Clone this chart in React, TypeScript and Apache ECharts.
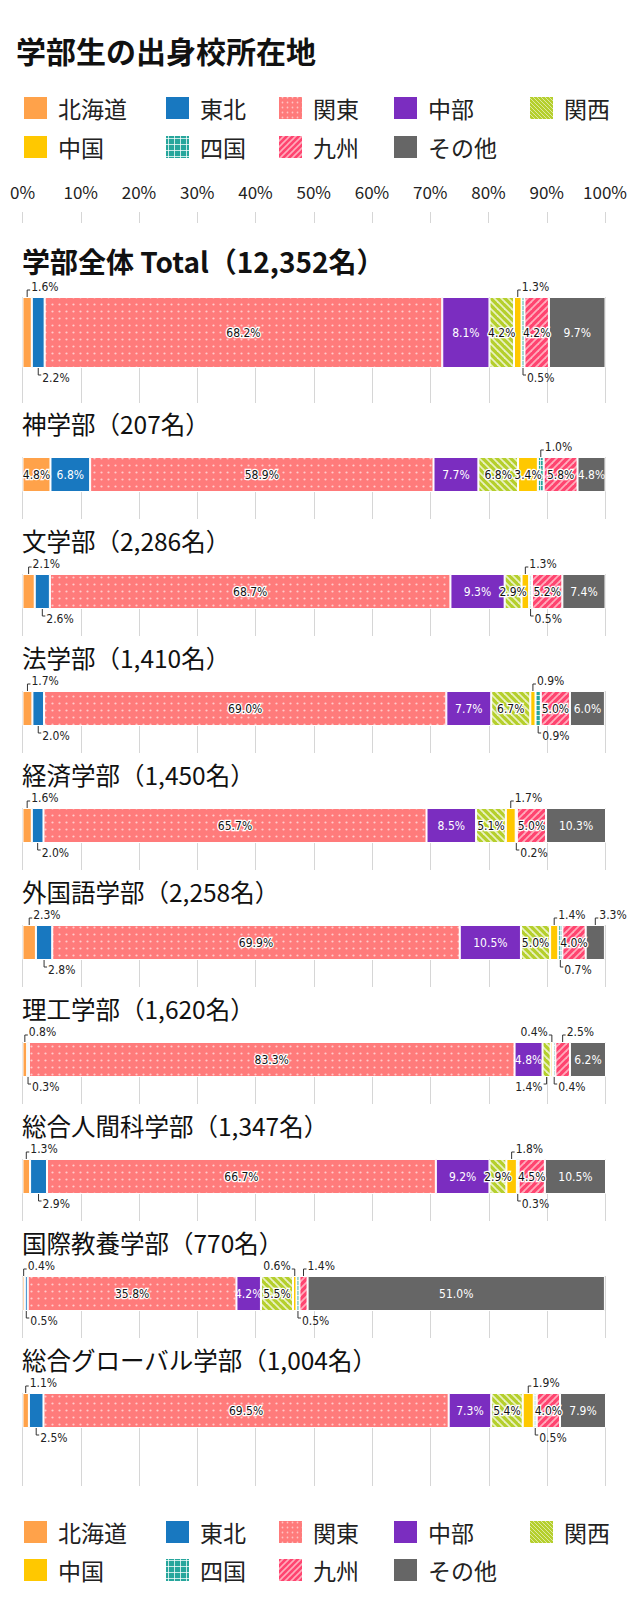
import React, { useEffect, useRef } from "react";
import * as echarts from "echarts";

const REGIONS = ["北海道", "東北", "関東", "中部", "関西", "中国", "四国", "九州", "その他"];
const TICK_LABELS = ["0%", "10%", "20%", "30%", "40%", "50%", "60%", "70%", "80%", "90%", "100%"];
const MAIN_TITLE = "学部生の出身校所在地";
const FACULTIES = [
  "学部全体 Total（12,352名）",
  "神学部（207名）",
  "文学部（2,286名）",
  "法学部（1,410名）",
  "経済学部（1,450名）",
  "外国語学部（2,258名）",
  "理工学部（1,620名）",
  "総合人間科学部（1,347名）",
  "国際教養学部（770名）",
  "総合グローバル学部（1,004名）",
];

// shares (%) in order: 北海道, 東北, 関東, 中部, 関西, 中国, 四国, 九州, その他
const TOTAL = [1.6, 2.2, 68.2, 8.1, 4.2, 1.3, 0.5, 4.2, 9.7];
const THEOLOGY = [4.8, 6.8, 58.9, 7.7, 6.8, 3.4, 1.0, 5.8, 4.8];
const HUMANITIES = [2.1, 2.6, 68.7, 9.3, 2.9, 1.3, 0.5, 5.2, 7.4];
const LAW = [1.7, 2.0, 69.0, 7.7, 6.7, 0.9, 0.9, 5.0, 6.0];
const ECONOMICS = [1.6, 2.0, 65.7, 8.5, 5.1, 1.7, 0.2, 5.0, 10.3];
const FOREIGN_STUDIES = [2.3, 2.8, 69.9, 10.5, 5.0, 1.4, 0.7, 4.0, 3.3];
const SCIENCE_TECH = [0.8, 0.3, 83.3, 4.8, 1.4, 0.4, 0.4, 2.5, 6.2];
const HUMAN_SCIENCES = [1.3, 2.9, 66.7, 9.2, 2.9, 1.8, 0.3, 4.5, 10.5];
const LIBERAL_ARTS = [0.4, 0.5, 35.8, 4.2, 5.5, 0.6, 0.5, 1.4, 51.0];
const GLOBAL_STUDIES = [1.1, 2.5, 69.5, 7.3, 5.4, 1.9, 0.5, 4.0, 7.9];
const FACULTY_VALUES = [
  TOTAL, THEOLOGY, HUMANITIES, LAW, ECONOMICS, FOREIGN_STUDIES,
  SCIENCE_TECH, HUMAN_SCIENCES, LIBERAL_ARTS, GLOBAL_STUDIES,
];

// label placement: "" inside, a = above-right, b = below-right, al = above-left, bl = below-left
const PLACEMENT = [
  ["a", "b", "", "", "", "a", "b", "", ""],
  ["", "", "", "", "", "", "a", "", ""],
  ["a", "b", "", "", "", "a", "b", "", ""],
  ["a", "b", "", "", "", "a", "b", "", ""],
  ["a", "b", "", "", "", "a", "b", "", ""],
  ["a", "b", "", "", "", "a", "b", "", "a"],
  ["a", "b", "", "", "bl", "al", "b", "a", ""],
  ["a", "b", "", "", "", "a", "b", "", ""],
  ["a", "b", "", "", "", "al", "b", "a", ""],
  ["a", "b", "", "", "", "a", "b", "", ""],
];
const CODE_NUM: Record<string, number> = { a: 1, b: 2, al: 3, bl: 4 };

const JP_FONT = "'Noto Sans CJK JP', 'Noto Sans', sans-serif";
const NUM_FONT = "'DejaVu Sans Condensed', 'Liberation Sans Narrow', 'Roboto', sans-serif";
const DARK = [false, true, false, true, false, false, false, false, true];

function tile(size: number, draw: (ctx: CanvasRenderingContext2D, s: number) => void) {
  const c = document.createElement("canvas");
  c.width = size;
  c.height = size;
  const ctx = c.getContext("2d") as CanvasRenderingContext2D;
  draw(ctx, size);
  return { image: c, repeat: "repeat", imageWidth: size, imageHeight: size } as any;
}
function dotFill(base: string, dot: string, s: number, r: number) {
  return tile(s, (ctx, n) => {
    ctx.fillStyle = base;
    ctx.fillRect(0, 0, n, n);
    ctx.fillStyle = dot;
    ctx.beginPath();
    ctx.arc(n / 2, n / 2, r, 0, Math.PI * 2);
    ctx.fill();
  });
}
function stripeFill(base: string, line: string, s: number, lw: number, back: boolean) {
  return tile(s, (ctx, n) => {
    ctx.fillStyle = base;
    ctx.fillRect(0, 0, n, n);
    if (back) {
      ctx.translate(n, 0);
      ctx.scale(-1, 1);
    }
    ctx.strokeStyle = line;
    ctx.lineWidth = lw;
    for (const k of [0, n, 2 * n]) {
      ctx.beginPath();
      ctx.moveTo(-1, k + 1);
      ctx.lineTo(k + 1, -1);
      ctx.stroke();
    }
  });
}
function gridFill(base: string, line: string, s: number, lw: number) {
  return tile(s, (ctx, n) => {
    ctx.fillStyle = base;
    ctx.fillRect(0, 0, n, n);
    ctx.fillStyle = line;
    ctx.fillRect(0, 0, n, lw);
    ctx.fillRect(0, 0, lw, n);
  });
}

function makeFills(fine: boolean) {
  return [
    "#FFA24A",
    "#1878C0",
    fine ? dotFill("#FF7B7B", "rgba(255,255,255,0.55)", 5, 0.9) : dotFill("#FF7B7B", "rgba(255,255,255,0.6)", 7, 1.1),
    "#7B2DC0",
    fine ? stripeFill("#B5CF2C", "rgba(255,255,255,0.55)", 4, 1, true) : stripeFill("#B5CF2C", "rgba(255,255,255,0.7)", 7, 1.8, true),
    "#FFC800",
    fine ? gridFill("#27A69C", "rgba(255,255,255,0.75)", 6, 1) : gridFill("#27A69C", "rgba(255,255,255,0.75)", 5, 1),
    fine ? stripeFill("#FF4470", "rgba(255,190,200,0.85)", 6, 1.6, false) : stripeFill("#FF4470", "rgba(255,190,200,0.85)", 7, 1.8, false),
    "#666666",
  ];
}

const GRID_LEFT = 22.5;
const GRID_RIGHT = 24.5;
const barTop = (i: number) => (i === 0 ? 297 : 457 + (i - 1) * 117.0);
const barH = (i: number) => (i === 0 ? 71 : 35);
const lineExt = (i: number) => (i === 0 ? 35 : i === 9 ? 58 : 27);

const renderCallout = (params: any, api: any) => {
  const start = api.value(0);
  const val = api.value(2);
  const code = api.value(3);
  const pt = api.coord([start + val / 2, 0]);
  const cx = pt[0];
  const cy = pt[1];
  const band = api.size([0, 1])[1];
  const up = code === 1 || code === 3;
  const left = code === 3 || code === 4;
  const edge = up ? cy - band / 2 : cy + band / 2;
  const elbowY = up ? edge - 7 : edge + 7;
  const hx = left ? cx - 3 : cx + 3;
  return {
    type: "group",
    children: [
      {
        type: "polyline",
        shape: { points: [[cx, edge], [cx, elbowY], [hx, elbowY]] },
        style: { stroke: "#333", lineWidth: 1, fill: null },
      },
      {
        type: "text",
        style: {
          text: `${val.toFixed(1)}%`,
          x: left ? cx - 4 : cx + 4,
          y: up ? edge - 10 : edge + 10,
          align: left ? "right" : "left",
          verticalAlign: "middle",
          fontSize: 12,
          fontFamily: NUM_FONT,
          fill: "#222",
        },
      },
    ],
  };
};

function buildOption() {
  const FILLS = makeFills(false);
  const LEGEND_FILLS = makeFills(true);
  const grid: any[] = [];
  const xAxis: any[] = [];
  const yAxis: any[] = [];
  const series: any[] = [];
  const graphic: any[] = [];

  // top axis labels and ticks
  grid.push({ left: GRID_LEFT, right: GRID_RIGHT, top: 212, height: 11 });
  xAxis.push({
    gridIndex: 0, type: "value", min: 0, max: 100, interval: 10, position: "top",
    axisLine: { show: false }, axisTick: { show: false },
    splitLine: { show: true, lineStyle: { color: "#d6d6d6", width: 1 } },
    axisLabel: {
      show: true, margin: 12, fontSize: 17, color: "#222", fontFamily: JP_FONT,
      formatter: (v: number) => TICK_LABELS[Math.round(v / 10)],
    },
  });
  yAxis.push({ gridIndex: 0, type: "category", data: [""], show: false });

  FACULTY_VALUES.forEach((vals, i) => {
    const top = barTop(i);
    const bh = barH(i);
    const gl = grid.length;
    grid.push({ left: GRID_LEFT, right: GRID_RIGHT, top, height: bh + lineExt(i) });
    xAxis.push({
      gridIndex: gl, type: "value", min: 0, max: 100, interval: 10,
      axisLabel: { show: false }, axisLine: { show: false }, axisTick: { show: false },
      splitLine: { show: true, lineStyle: { color: "#d6d6d6", width: 1 } },
    });
    yAxis.push({ gridIndex: gl, type: "category", data: [""], show: false });

    const gb = grid.length;
    grid.push({ left: GRID_LEFT, right: GRID_RIGHT, top, height: bh });
    xAxis.push({ gridIndex: gb, type: "value", min: 0, max: 100, show: false });
    yAxis.push({ gridIndex: gb, type: "category", data: [FACULTIES[i]], show: false });

    vals.forEach((v, k) => {
      const place = PLACEMENT[i][k];
      const dark = DARK[k];
      series.push({
        type: "bar",
        name: REGIONS[k],
        xAxisIndex: gb,
        yAxisIndex: gb,
        stack: "f" + i,
        barWidth: "100%",
        silent: true,
        data: [v],
        itemStyle: { color: FILLS[k], borderColor: "#ffffff", borderWidth: 1 },
        label: {
          show: place === "",
          position: "inside",
          formatter: (p: any) => `${Number(p.value).toFixed(1)}%`,
          fontSize: 12,
          fontFamily: NUM_FONT,
          color: dark ? "#ffffff" : "#111111",
          textBorderColor: dark ? "transparent" : "#ffffff",
          textBorderWidth: dark ? 0 : 2.5,
        },
      });
    });

    const cdata: number[][] = [];
    let acc = 0;
    vals.forEach((v, k) => {
      const code = PLACEMENT[i][k];
      if (code) cdata.push([acc, 0, v, CODE_NUM[code]]);
      acc += v;
    });
    series.push({
      type: "custom",
      xAxisIndex: gb,
      yAxisIndex: gb,
      silent: true,
      z: 10,
      data: cdata,
      encode: { x: 0, y: 1 },
      renderItem: renderCallout,
    });

    graphic.push({
      type: "text",
      style: {
        text: FACULTIES[i],
        x: 22,
        y: i === 0 ? top - 36 : top - 34,
        verticalAlign: "middle",
        fontSize: i === 0 ? 28 : 24.5,
        fontWeight: i === 0 ? "bold" : "normal",
        fontFamily: JP_FONT,
        fill: "#111",
      },
    });
  });

  graphic.push({
    type: "text",
    style: {
      text: MAIN_TITLE, x: 16, y: 50, verticalAlign: "middle",
      fontSize: 30, fontWeight: "bold", fontFamily: JP_FONT, fill: "#111",
    },
  });

  const LEG_X = [24, 166, 279, 394, 530];
  const addLegend = (rows: number[]) => {
    REGIONS.forEach((r, k) => {
      const row = k < 5 ? 0 : 1;
      const col = k < 5 ? k : k - 5;
      const x = LEG_X[col];
      const y = rows[row];
      graphic.push({
        type: "rect",
        shape: { x, y: y - 11, width: 23, height: 22 },
        style: { fill: LEGEND_FILLS[k] },
      });
      graphic.push({
        type: "text",
        style: {
          text: r, x: x + 34, y, verticalAlign: "middle",
          fontSize: 23, fontFamily: JP_FONT, fill: "#222",
        },
      });
    });
  };
  addLegend([108, 147]);
  addLegend([1532, 1570]);

  return {
    animation: false,
    backgroundColor: "#ffffff",
    textStyle: { fontFamily: JP_FONT },
    grid,
    xAxis,
    yAxis,
    series,
    graphic,
  };
}

export default function App() {
  const ref = useRef<HTMLDivElement>(null);
  useEffect(() => {
    if (!ref.current) return;
    const chart = echarts.init(ref.current, undefined, { renderer: "svg" });
    chart.setOption(buildOption() as any);
    return () => chart.dispose();
  }, []);
  return (
    <div
      ref={ref}
      style={{ position: "absolute", left: 0, top: 0, width: 630, height: 1612, background: "#fff" }}
    />
  );
}
